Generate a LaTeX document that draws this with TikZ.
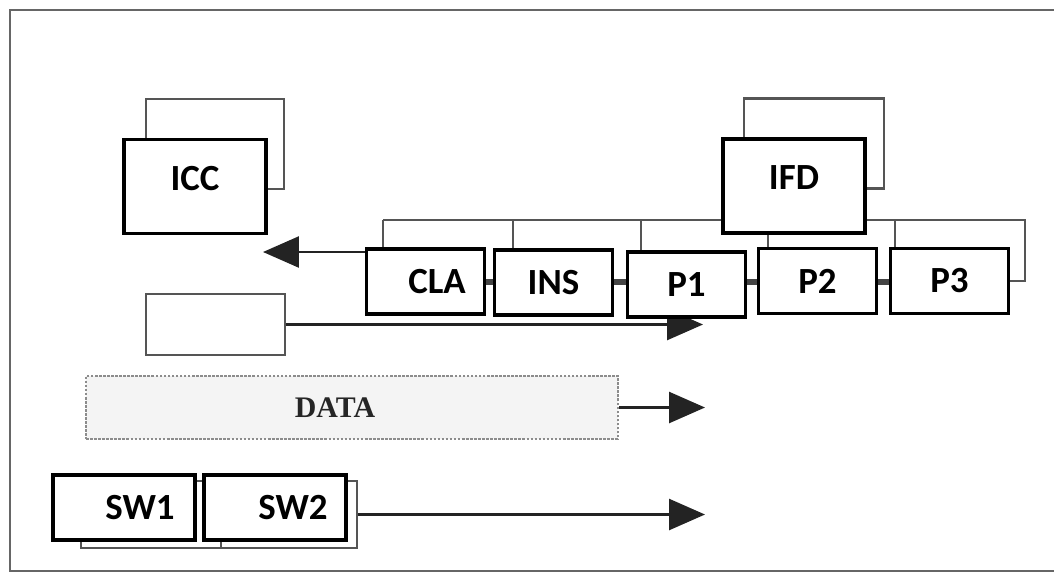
\documentclass[tikz,border=0pt]{standalone}
\usepackage{fontspec}
\usepackage{tikz}
\usetikzlibrary{arrows.meta, backgrounds}
\newfontfamily\boxfont{Carlito}
\newfontfamily\datafont{Liberation Serif}
\definecolor{mydark}{RGB}{35,35,35}
\definecolor{mygrey}{RGB}{85,85,85}
\definecolor{mydatafill}{RGB}{244,244,244}
\tikzset{
  block/.style={rectangle, draw=black, fill=white, line width=2.2pt,
    minimum width=2.36cm, minimum height=1.3cm, inner sep=0pt,
    font=\boxfont\bfseries\fontsize{21}{25}\selectfont},
  bigblock/.style={minimum width=2.84cm, minimum height=1.88cm, text depth=0.32cm},
  swblock/.style={minimum width=2.84cm, minimum height=1.3cm},
  backblock/.style={rectangle, draw=mygrey, fill=white, line width=1.2pt, inner sep=0pt},
  datablock/.style={rectangle, draw=black!45, fill=mydatafill, line width=1.2pt,
    dash pattern=on 1.5pt off 0.8pt, minimum width=10.64cm, minimum height=1.26cm,
    inner sep=0pt, text=black!85, font=\datafont\bfseries\fontsize{17}{20}\selectfont},
  busline/.style={line width=1.1pt, color=mygrey},
  stubline/.style={line width=3.2pt, color=mydark!85},
  bigarrow/.style={-{Triangle[length=0.72cm, width=0.62cm]}, line width=1.5pt, color=mydark},
  outline/.style={line width=1pt, color=black!60}
}
\begin{document}
\begin{tikzpicture}[x=0.02cm, y=-0.02cm]
  \useasboundingbox (0,0) rectangle (1054,576);
  % Outer frame
  \draw[outline] (1054,10) -- (10,10) -- (10,571) -- (1054,571);

  % ICC and its back card
  \node[backblock, minimum width=2.76cm, minimum height=1.8cm] (iccback) at (215,144) {};
  \node[block, bigblock] (icc) at (195,186.5) {ICC};

  % IFD and its back card
  \node[backblock, minimum width=2.8cm, minimum height=1.8cm] (ifdback) at (814,143.5) {};
  \node[block, bigblock] (ifd) at (794,186) {IFD};

  % Card chain
  \node[block] (cla) at (425.5,281.5) {\hspace*{0.46cm}CLA};
  \node[block] (ins) at (553.5,282.5) {INS};
  \node[block] (p1) at (686.5,284.5) {P1};
  \node[block] (p2) at (817.5,281) {P2};
  \node[block] (p3) at (949.5,281) {P3};

  % Empty box
  \node[backblock, line width=1.4pt, minimum width=2.78cm, minimum height=1.22cm] (reg) at (215.5,324.5) {};

  % Data strip
  \node[datablock] (data) at (352,407.5) {DATA\hspace*{0.68cm}};

  % Switch cards
  \node[backblock, minimum width=5.52cm, minimum height=1.34cm] (swback) at (219,514.5) {};
  \node[block, swblock] (sw1) at (124,507.5) {\hspace*{0.64cm}SW1};
  \node[block, swblock] (sw2) at (275,507.5) {\hspace*{0.72cm}SW2};
  \draw[busline] (221,542) -- (221,549);

  % Free ends
  \coordinate (iccin) at (263,252);
  \coordinate (p1in) at (703,324.5);
  \coordinate (dataout) at (705,407.5);
  \coordinate (swout) at (705,514.5);
  \coordinate (busend) at (1025,220);
  \coordinate (stubrow) at (0,282);
  \coordinate (tapcla) at (383,220);
  \coordinate (tapins) at (513,220);
  \coordinate (tapp1) at (641,220);
  \coordinate (tapp2) at (768,220);
  \coordinate (tapp3) at (895,220);

  \begin{pgfonlayer}{background}
    % Bus over the cards
    \draw[busline] (tapcla) -- (busend) -- (busend |- p3.east) -- (p3.east);
    \foreach \t/\b in {tapcla/cla, tapins/ins, tapp1/p1, tapp2/p2, tapp3/p3}
      \draw[busline] (\t) -- (\t |- \b.north);
    % Links between neighbours
    \foreach \a/\b in {cla/ins, ins/p1, p1/p2, p2/p3}
      \draw[stubline] (\a.east |- stubrow) -- (\b.west |- stubrow);
    % Arrows
    \draw[bigarrow] (cla.west |- iccin) -- (iccin);
    \draw[bigarrow] (reg.east) -- (p1in);
    \draw[bigarrow] (data.east) -- (dataout);
    \draw[bigarrow] (swback.east) -- (swout);
  \end{pgfonlayer}
\end{tikzpicture}
\end{document}
